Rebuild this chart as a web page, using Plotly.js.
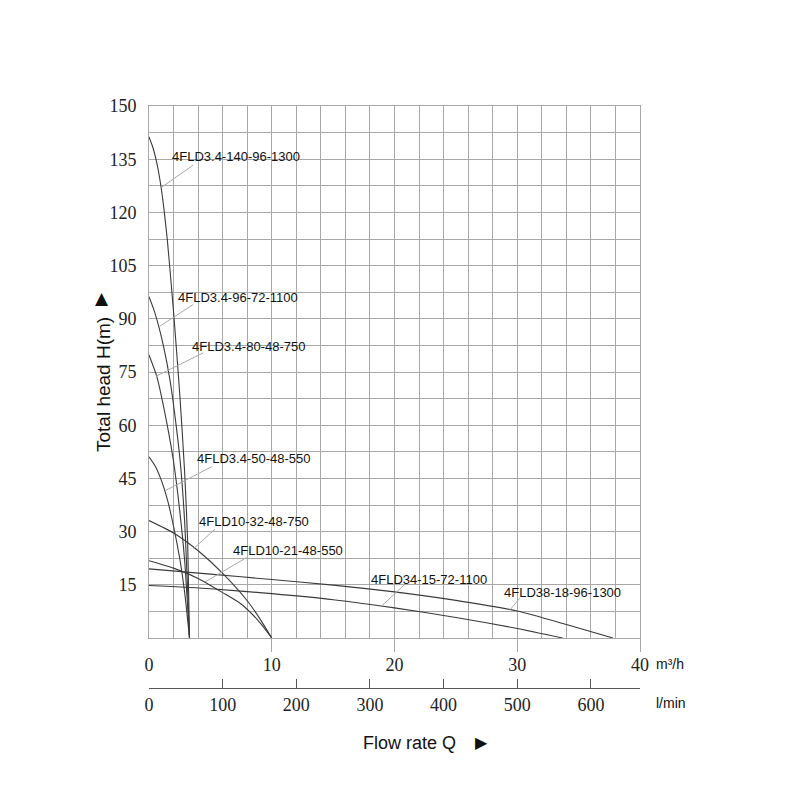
<!DOCTYPE html>
<html><head><meta charset="utf-8">
<script src="https://cdn.plot.ly/plotly-3.0.1.min.js"></script>
<style>html,body{margin:0;padding:0;background:#fff}#chart{width:800px;height:800px}</style>
</head><body><div id="chart"></div>
<script>
// ---- data ----
const seriesNames = ["4FLD3.4-140-96-1300","4FLD3.4-96-72-1100","4FLD3.4-80-48-750","4FLD3.4-50-48-550",
                     "4FLD10-32-48-750","4FLD10-21-48-550","4FLD34-15-72-1100","4FLD38-18-96-1300"];
const q1 = [0, 0.3, 0.6, 0.9, 1.2, 1.5, 2.0, 2.5, 2.9, 3.15, 3.3];
const h1 = [141.3, 138.5, 134.5, 129, 121.5, 112, 92, 69, 47, 27, 0];
const q2 = [0, 0.4, 0.8, 1.2, 1.71, 2.1, 2.53, 2.9, 3.3];
const h2 = [96.2, 92.5, 87.8, 82, 72.7, 63, 50.2, 33, 0];
const q3 = [0, 0.62, 1.2, 1.98, 2.5, 2.9, 3.3];
const h3 = [79.8, 73.9, 65, 50.2, 36, 22, 0];
const q4 = [0, 0.5, 1.0, 1.5, 2.0, 2.5, 2.9, 3.3];
const h4 = [51.1, 48.5, 44.5, 39, 31.5, 22.5, 13, 0];
const q5 = [0, 2, 4, 6, 8, 9, 10];
const h5 = [33.1, 29.6, 24.6, 18.2, 10.5, 5.6, 0];
const q6 = [0, 2, 4, 6, 7.5, 9, 10];
const h6 = [21.8, 19.7, 16.8, 12.8, 9.6, 4.5, 0];
const q7 = [0, 5, 10, 15, 20, 25, 30, 33.7];
const h7 = [14.8, 13.9, 12.5, 10.8, 8.5, 5.8, 2.7, 0];
const q8 = [0, 5, 10, 15, 20, 25, 30, 34, 37.8];
const h8 = [19.5, 18.0, 16.5, 14.9, 13.0, 10.6, 7.6, 3.8, 0];
const qSeries = [q1,q2,q3,q4,q5,q6,q7,q8];
const hSeries = [h1,h2,h3,h4,h5,h6,h7,h8];
const yTicks = [15, 30, 45, 60, 75, 90, 105, 120, 135, 150];
const m3hTicks = [0, 10, 20, 30, 40];
const lminTicks = [0, 100, 200, 300, 400, 500, 600];
const m3hMax = 40;

// ---- label placement (positions, not data) ----
// text: left-middle anchor; leader: from (lx,ly) to (tx,ty), all in axis units
const labelPos = [
  {x:1.72, y:135.9, lx:3.59, ly:133.3, tx:1.03, ty:127.1},
  {x:2.21, y:96.1,  lx:3.58, ly:94.0,  tx:0.84, ty:87.8},
  {x:3.33, y:82.3,  lx:4.42, ly:80.4,  tx:0.57, ty:73.8},
  {x:3.78, y:50.5,  lx:5.11, ly:48.3,  tx:1.30, ty:41.5},
  {x:3.87, y:32.8,  lx:5.38, ly:30.7,  tx:3.61, ty:25.1},
  {x:6.64, y:24.8,  lx:7.96, ly:22.7,  tx:4.56, ty:15.8},
  {x:17.95,y:16.6,  lx:20.77,ly:14.9,  tx:19.04,ty:9.3},
  {x:28.75,y:12.9,  lx:30.2, ly:11.2,  tx:29.4, ty:7.9}
];

const gridC = '#a8a8a8';
const curveC = '#3a3a3a';
const serif = 'Liberation Serif, DejaVu Serif, serif';
const sans = 'Liberation Sans, Arial, sans-serif';

const traces = qSeries.map((q,i)=>({
  x: q, y: hSeries[i], name: seriesNames[i], type:'scatter', mode:'lines',
  line:{color:curveC, width:1.1, shape:'spline', smoothing:0.6},
  hoverinfo:'skip', showlegend:false, xaxis:'x', yaxis:'y'
}));
['x2','x3','x4'].forEach(ax=>traces.push({x:[], y:[], type:'scatter', mode:'lines', xaxis:ax, yaxis:'y', hoverinfo:'skip', showlegend:false}));

const annotations = seriesNames.map((n,i)=>({
  text:n, x:labelPos[i].x, y:labelPos[i].y, xref:'x', yref:'y',
  xanchor:'left', yanchor:'middle', showarrow:false,
  font:{family:sans, size:13, color:'#111'}
}));
const shapes = labelPos.map(p=>({
  type:'line', xref:'x', yref:'y', x0:p.lx, y0:p.ly, x1:p.tx, y1:p.ty,
  line:{color:'#a8a8a8', width:1}
}));

// paper coords: x from 149..640 px, y from 688 (0) .. 106 (1)
const px = v => (v-149)/491;
const py = v => (688-v)/582;
annotations.push(
  {text:'Total head H(m)', x:px(103), y:py(385), xref:'paper', yref:'paper', textangle:-90,
   showarrow:false, xanchor:'center', yanchor:'middle', font:{family:sans, size:19, color:'#111'}},
  {text:'\u25B2', x:px(102), y:py(298), xref:'paper', yref:'paper',
   showarrow:false, xanchor:'center', yanchor:'middle', font:{family:'DejaVu Sans', size:17, color:'#111'}},
  {text:'Flow rate Q', x:px(361), y:py(743), xref:'paper', yref:'paper',
   showarrow:false, xanchor:'left', yanchor:'middle', font:{family:sans, size:18, color:'#111'}},
  {text:'\u25B6', x:px(481), y:py(742), xref:'paper', yref:'paper',
   showarrow:false, xanchor:'center', yanchor:'middle', font:{family:'DejaVu Sans', size:16, color:'#111'}},
  {text:'m\u00B3/h', x:px(654), y:py(664), xref:'paper', yref:'paper',
   showarrow:false, xanchor:'left', yanchor:'middle', font:{family:sans, size:14, color:'#111'}},
  {text:'l/min', x:px(654), y:py(703), xref:'paper', yref:'paper',
   showarrow:false, xanchor:'left', yanchor:'middle', font:{family:sans, size:14, color:'#111'}}
);

const layout = {
  width:800, height:800,
  margin:{l:149, r:160, t:106, b:112, pad:0},
  paper_bgcolor:'#fff', plot_bgcolor:'#fff',
  showlegend:false,
  xaxis:{range:[0,m3hMax], dtick:2, tick0:0, showgrid:true, gridcolor:gridC, gridwidth:1,
         showticklabels:false, ticks:'', zeroline:false, showline:true, linecolor:gridC, linewidth:1, mirror:true,
         fixedrange:true},
  xaxis2:{overlaying:'x', anchor:'y', range:[0,m3hMax], tickvals:[10,20,30,40], ticks:'outside', ticklen:13,
          tickcolor:gridC, tickwidth:1, showticklabels:false, showgrid:false, zeroline:false, showline:false, fixedrange:true},
  xaxis3:{overlaying:'x', anchor:'y', range:[0,m3hMax], tickvals:m3hTicks, ticks:'', showticklabels:true,
          ticklabelstandoff:14, tickfont:{family:serif, size:18, color:'#222'}, showgrid:false, zeroline:false, showline:false, fixedrange:true},
  xaxis4:{overlaying:'x', anchor:'free', position:0, range:[0, m3hMax*1000/60], tickvals:lminTicks,
          ticks:'inside', ticklen:9, tickcolor:'#555', tickwidth:1, showline:true, linecolor:'#555', linewidth:1,
          showgrid:false, zeroline:false, ticklabelstandoff:0, tickfont:{family:serif, size:18, color:'#222'}, fixedrange:true},
  yaxis:{range:[0,150], domain:[(688-638)/582, 1], tickvals:yTicks, ticks:'', showgrid:true, gridcolor:gridC, gridwidth:1,
         minor:{dtick:7.5, tick0:0, showgrid:true, gridcolor:gridC, gridwidth:1, ticks:''},
         ticklabelstandoff:8, tickfont:{family:serif, size:18, color:'#222'},
         showline:true, linecolor:gridC, linewidth:1, mirror:true, zeroline:false, fixedrange:true},
  annotations: annotations,
  shapes: shapes
};
Plotly.newPlot('chart', traces, layout, {staticPlot:true, displayModeBar:false});
</script>
</body></html>
